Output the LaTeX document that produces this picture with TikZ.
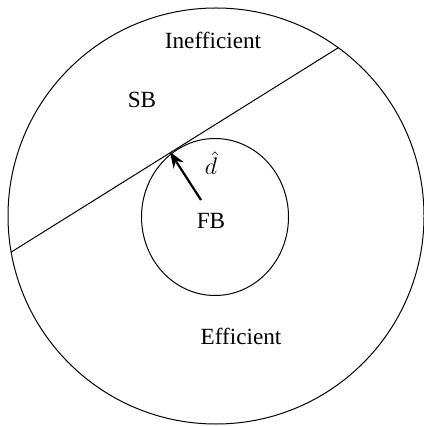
\documentclass[tikz,border=0pt]{standalone}
\usepackage{fontspec}
\setmainfont{Liberation Serif}
\usetikzlibrary{arrows.meta,positioning,shapes.geometric}

\begin{document}
\begin{tikzpicture}[
    x=0.5pt, y=-0.5pt,
    >=Stealth,
    region/.style={draw, line width=0.5pt, outer sep=0pt, inner sep=0pt},
    lbl/.style={font=\fontsize{11.6}{14}\selectfont, inner sep=0pt},
    vec/.style={->, line width=1.1pt}
  ]
  \useasboundingbox (0,0) rectangle (423,426);

  %% Outer and inner regions
  \node (outer) [region, circle, minimum size=208pt] at (216,216) {};
  \node (inner) [region, ellipse, minimum width=73.5pt, minimum height=78.5pt] at (215,217) {};

  %% Separating line
  \draw[line width=0.5pt] (outer.190) -- (outer.54.5);

  %% Labels
  \node (ineff) [lbl] at (213,40)  {Inefficient};
  \node (sb)    [lbl] at (142,100) {SB};
  \node (fb)    [lbl] at (211,221) {FB};
  \node (eff)   [lbl] at (241,336) {Efficient};

  %% Distance arrow
  \coordinate (tail) at (201,200);
  \coordinate (tip)  at (170,152);
  \draw[vec] (tail) -- (tip);
  \node (dhat) [lbl] at (211,163) {$\hat{d}$};

\end{tikzpicture}
\end{document}
